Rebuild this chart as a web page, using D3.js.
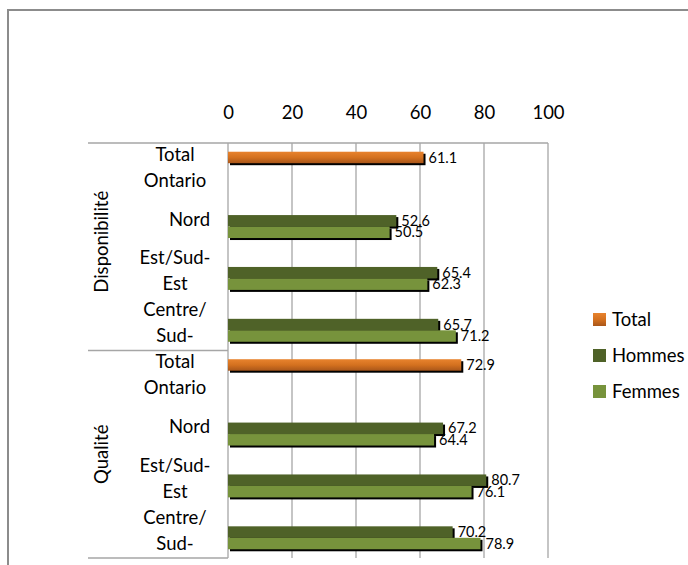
<!DOCTYPE html>
<html>
<head>
<meta charset="utf-8">
<script src="https://cdn.jsdelivr.net/npm/d3@7"></script>
<style>
  body { margin: 0; background: #fff; }
  text { font-family: Lato, "Open Sans", sans-serif; fill: #000; }
</style>
</head>
<body>
<div id="chart"></div>
<script>
// Data
const groups = ['Disponibilité', 'Qualité'];
const regions = ['Total Ontario', 'Nord', 'Est/Sud-Est', 'Centre/Sud-Ouest'];
const regionLines = [['Total', 'Ontario'], ['Nord'], ['Est/Sud-', 'Est'], ['Centre/', 'Sud-']];
const seriesNames = ['Total', 'Hommes', 'Femmes'];
const totalValues = [61.1, null, null, null, 72.9, null, null, null];
const hommesValues = [null, 52.6, 65.4, 65.7, null, 67.2, 80.7, 70.2];
const femmesValues = [null, 50.5, 62.3, 71.2, null, 64.4, 76.1, 78.9];
const xTicks = [0, 20, 40, 60, 80, 100];

const width = 688, height = 565;
const plot = { left: 228, right: 548, top: 143, bottom: 558 };
const fontSize = '18.5px';

const svg = d3.select('#chart').append('svg')
  .attr('width', width)
  .attr('height', height);

// Gradient for the Total series
const defs = svg.append('defs');
const grad = defs.append('linearGradient')
  .attr('id', 'orange')
  .attr('x1', 0).attr('y1', 0).attr('x2', 0).attr('y2', 1);
grad.append('stop').attr('offset', '0%').attr('stop-color', '#E8832E');
grad.append('stop').attr('offset', '50%').attr('stop-color', '#D4711F');
grad.append('stop').attr('offset', '100%').attr('stop-color', '#A9561A');

const colors = { Total: 'url(#orange)', Hommes: '#4F6228', Femmes: '#77933C' };

// Outer chart frame
svg.append('rect')
  .attr('x', 8).attr('y', 10)
  .attr('width', 720).attr('height', 600)
  .attr('fill', 'none')
  .attr('stroke', '#8c8c8c')
  .attr('stroke-width', 2);

// Build rows (group x region)
const rows = [];
groups.forEach((g, gi) => {
  regions.forEach((r, ri) => {
    const i = gi * regions.length + ri;
    rows.push({
      key: g + '|' + r,
      group: g,
      lines: regionLines[ri],
      Total: totalValues[i],
      Hommes: hommesValues[i],
      Femmes: femmesValues[i]
    });
  });
});

// Scales
const x = d3.scaleLinear()
  .domain([0, 100])
  .range([plot.left, plot.right]);

const y0 = d3.scaleBand()
  .domain(rows.map((d) => d.key))
  .range([plot.top, plot.bottom])
  .padding(0);

const y1 = d3.scaleBand()
  .domain(seriesNames)
  .range([0, y0.bandwidth()])
  .paddingInner(0)
  .paddingOuter(0.76);

// Gridlines
svg.append('g')
  .selectAll('line')
  .data(xTicks)
  .enter()
  .append('line')
  .attr('x1', (d) => x(d))
  .attr('x2', (d) => x(d))
  .attr('y1', plot.top)
  .attr('y2', plot.bottom)
  .attr('stroke', '#a6a6a6')
  .attr('stroke-width', 1.3);

// Plot top border
svg.append('line')
  .attr('x1', plot.left).attr('x2', plot.right)
  .attr('y1', plot.top).attr('y2', plot.top)
  .attr('stroke', '#a6a6a6')
  .attr('stroke-width', 1.3);

// X axis (top), labels only
const xAxis = svg.append('g')
  .attr('transform', `translate(0,${plot.top - 24})`)
  .call(d3.axisTop(x).tickValues(xTicks).tickSize(0).tickPadding(0));
xAxis.select('.domain').remove();
xAxis.selectAll('text')
  .style('font-family', 'Lato, "Open Sans", sans-serif')
  .style('font-size', fontSize)
  .attr('fill', '#000');

// Group separators on the category axis
const groupEdges = [plot.top, y0(rows[4].key), plot.bottom];
svg.append('g')
  .selectAll('line')
  .data(groupEdges)
  .enter()
  .append('line')
  .attr('x1', 88)
  .attr('x2', plot.left)
  .attr('y1', (d) => d)
  .attr('y2', (d) => d)
  .attr('stroke', '#a6a6a6')
  .attr('stroke-width', 1.3);

// Bars
const barGroups = svg.append('g')
  .selectAll('g')
  .data(rows)
  .enter()
  .append('g')
  .attr('transform', (d) => `translate(0,${y0(d.key)})`);

seriesNames.forEach((s) => {
  const withVal = barGroups.filter((d) => d[s] != null);
  // shadow
  withVal.append('rect')
    .attr('x', x(0) + 2)
    .attr('y', y1(s) + 2)
    .attr('width', (d) => x(d[s]) - x(0))
    .attr('height', y1.bandwidth())
    .attr('fill', '#000');
  withVal.append('rect')
    .attr('x', x(0))
    .attr('y', y1(s))
    .attr('width', (d) => x(d[s]) - x(0))
    .attr('height', y1.bandwidth())
    .attr('fill', colors[s]);
});

seriesNames.forEach((s) => {
  barGroups.filter((d) => d[s] != null)
    .append('text')
    .attr('x', (d) => x(d[s]) + 5)
    .attr('y', y1(s) + y1.bandwidth() / 2 + 1.5)
    .attr('dominant-baseline', 'middle')
    .style('font-size', '14.5px')
    .text((d) => d[s].toFixed(1));
});

// Category labels
rows.forEach((d) => {
  const cy = y0(d.key) + y0.bandwidth() / 2;
  const n = d.lines.length;
  d.lines.forEach((line, li) => {
    const single = n === 1;
    svg.append('text')
      .attr('x', single ? 210 : 175)
      .attr('y', cy + (li - (n - 1) / 2) * 26)
      .attr('text-anchor', single ? 'end' : 'middle')
      .attr('dominant-baseline', 'middle')
      .style('font-size', fontSize)
      .text(line);
  });
});

// Group labels (rotated)
groups.forEach((g, gi) => {
  const cy = (groupEdges[gi] + groupEdges[gi + 1]) / 2 - (gi === 0 ? 5 : 0);
  svg.append('text')
    .attr('transform', `translate(103,${cy}) rotate(-90)`)
    .attr('text-anchor', 'middle')
    .attr('dominant-baseline', 'middle')
    .style('font-size', fontSize)
    .text(g);
});

// Legend
const legend = svg.append('g')
  .attr('transform', 'translate(593,313)');

legend.selectAll('rect')
  .data(seriesNames)
  .enter()
  .append('rect')
  .attr('x', 0)
  .attr('y', (_, i) => i * 36)
  .attr('width', 13)
  .attr('height', 13)
  .attr('fill', (d) => colors[d]);

legend.selectAll('text')
  .data(seriesNames)
  .enter()
  .append('text')
  .attr('x', 19)
  .attr('y', (_, i) => i * 36 + 8)
  .attr('dominant-baseline', 'middle')
  .style('font-size', fontSize)
  .text((d) => d);
</script>
</body>
</html>
